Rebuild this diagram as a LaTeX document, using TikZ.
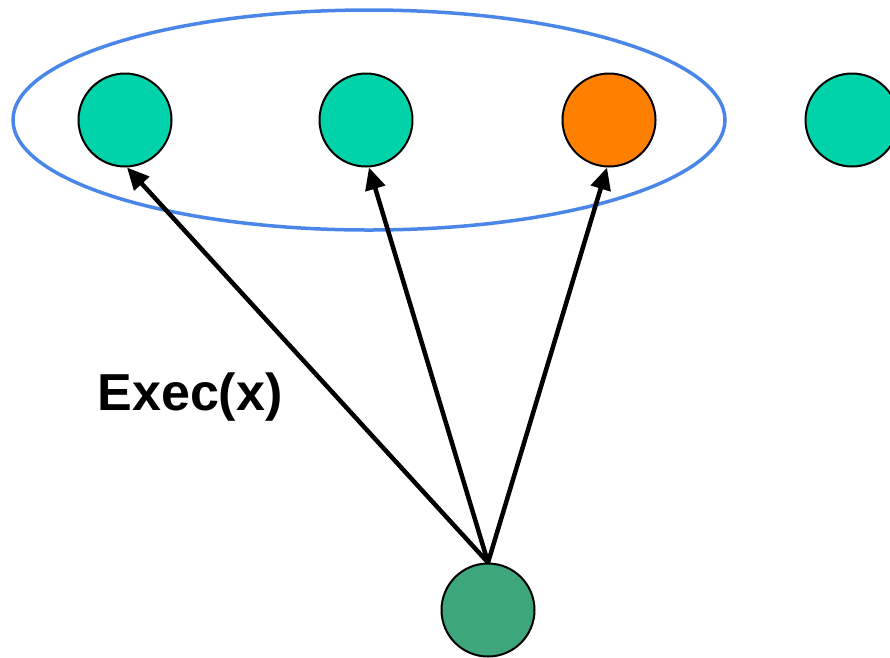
\documentclass[tikz,border=0pt]{standalone}
\usepackage{fontspec}
\setmainfont{Liberation Sans}
\usetikzlibrary{arrows.meta,shapes.geometric}
\definecolor{teal1}{HTML}{00D2A9}
\definecolor{orange1}{HTML}{FF7F00}
\definecolor{green1}{HTML}{3DA67A}
\definecolor{blue1}{HTML}{4A86E8}
\tikzset{
  vtx/.style={circle, draw=black, line width=2pt, minimum size=93pt, inner sep=0pt},
  arr/.style={line width=4.5pt, -{Triangle[length=22pt,width=20pt]}}
}
\begin{document}
\begin{tikzpicture}[x=1pt,y=-1pt]
\useasboundingbox (0,0) rectangle (890,657);
\clip (0,0) rectangle (890,657);
\fill[white] (0,0) rectangle (890,657);
\node[draw=blue1, line width=3.5pt, ellipse, minimum width=712pt, minimum height=220pt, inner sep=0pt] (grp) at (369,120) {};
\node[vtx, fill=teal1] (n1) at (125,120) {};
\node[vtx, fill=teal1] (n2) at (366,120) {};
\node[vtx, fill=orange1] (n3) at (609,120) {};
\node[vtx, fill=teal1] (n4) at (852,120) {};
\node[vtx, fill=green1] (src) at (488,610) {};
\node[font=\bfseries\fontsize{52}{58}\selectfont, inner sep=0pt] (lbl) at (190,397) {Exec(x)};
\draw[arr] (src.north) -- ([xshift=2pt]n1.south);
\draw[arr] (src.north) -- ([xshift=3pt]n2.south);
\draw[arr] (src.north) -- ([xshift=-2pt]n3.south);
\end{tikzpicture}
\end{document}
